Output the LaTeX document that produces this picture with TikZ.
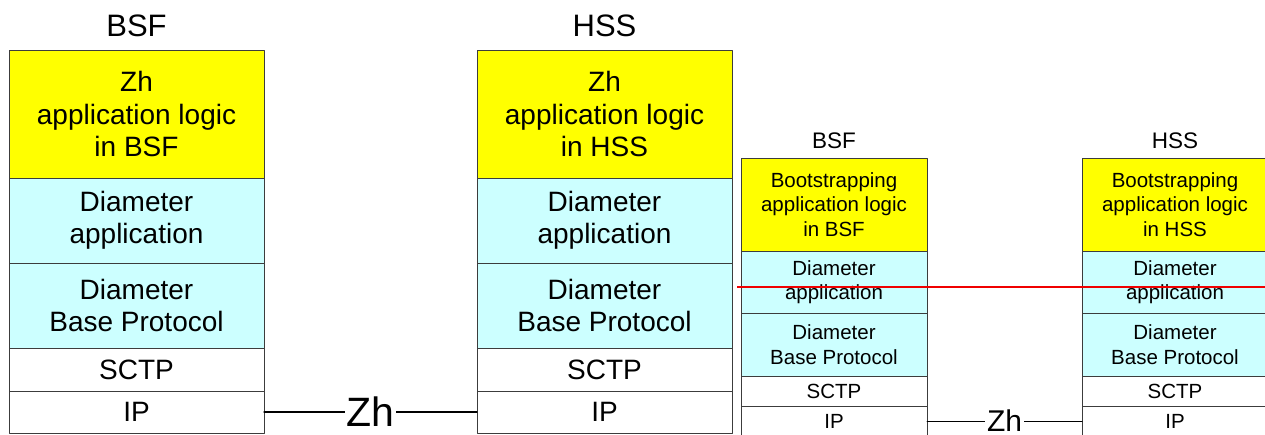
\documentclass[tikz,border=0pt]{standalone}
\usepackage{fontspec}
\setmainfont{Liberation Sans}
\usetikzlibrary{positioning}
\definecolor{zhyellow}{RGB}{255,255,0}
\definecolor{diamcyan}{RGB}{204,255,255}
\definecolor{edgegray}{RGB}{60,60,60}
\definecolor{cutred}{RGB}{240,0,0}
\tikzset{
  layer/.style={draw=edgegray, line width=0.9pt, align=center,
                inner sep=0pt, outer sep=0pt},
  biglayer/.style={layer, minimum width=255pt,
                   font=\fontsize{28}{32.5}\selectfont},
  smalllayer/.style={layer, minimum width=186pt,
                     font=\fontsize{20.5}{24.5}\selectfont},
  yellowfill/.style={fill=zhyellow},
  cyanfill/.style={fill=diamcyan},
  whitefill/.style={fill=white},
  biglabel/.style={inner sep=0pt, font=\fontsize{31}{36}\selectfont},
  smalllabel/.style={inner sep=0pt, font=\fontsize{22.5}{27}\selectfont},
  zhlabel/.style={fill=white, inner sep=2pt}
}
\begin{document}
\begin{tikzpicture}[line cap=round, line join=round, x=1pt, y=-1pt]
\useasboundingbox (0,0) rectangle (1265,435);
\clip (0,0) rectangle (1265,435);
\foreach \nm/\xl/\lbl in {bsf/9/BSF, hss/477/HSS}{
  \node[biglayer, yellowfill, minimum height=128pt, anchor=north west]
    (\nm zh) at (\xl,50) {Zh\\application logic\\in \lbl};
  \node[biglayer, cyanfill, minimum height=85pt, below=0pt of \nm zh]
    (\nm dapp) {Diameter\\application};
  \node[biglayer, cyanfill, minimum height=85pt, below=0pt of \nm dapp]
    (\nm dbase) {Diameter\\Base Protocol};
  \node[biglayer, whitefill, minimum height=43pt, below=0pt of \nm dbase]
    (\nm sctp) {SCTP};
  \node[biglayer, whitefill, minimum height=42pt, below=0pt of \nm sctp]
    (\nm ip) {IP};
  \node[biglabel, above=13pt of \nm zh.north, anchor=base] (\nm title) {\lbl};
}
\foreach \nm/\xl/\lbl in {sbsf/741/BSF, shss/1082/HSS}{
  \node[smalllayer, yellowfill, minimum height=93pt, anchor=north west]
    (\nm boot) at (\xl,158) {Bootstrapping\\application logic\\in \lbl};
  \node[smalllayer, cyanfill, minimum height=62pt, below=0pt of \nm boot]
    (\nm dapp) {Diameter\\application};
  \node[smalllayer, cyanfill, minimum height=63pt, below=0pt of \nm dapp]
    (\nm dbase) {Diameter\\Base Protocol};
  \node[smalllayer, whitefill, minimum height=30pt, below=0pt of \nm dbase]
    (\nm sctp) {SCTP};
  \node[smalllayer, whitefill, minimum height=30pt, below=0pt of \nm sctp]
    (\nm ip) {IP};
  \node[smalllabel, above=9pt of \nm boot.north, anchor=base] (\nm title) {\lbl};
}
\draw [color=black, line width=1.2pt] (bsfip.east) --
  node[zhlabel, font=\fontsize{41}{41}\selectfont] (bigzh) {Zh} (hssip.west);
\draw [color=black, line width=1pt] (sbsfip.east) --
  node[zhlabel, font=\fontsize{30}{30}\selectfont] (smallzh) {Zh} (shssip.west);
\coordinate (redstart) at (737,287);
\coordinate (redend) at (1265,287);
\draw [color=cutred, line width=1.4pt, line cap=butt] (redstart) -- (redend);
\end{tikzpicture}
\end{document}
